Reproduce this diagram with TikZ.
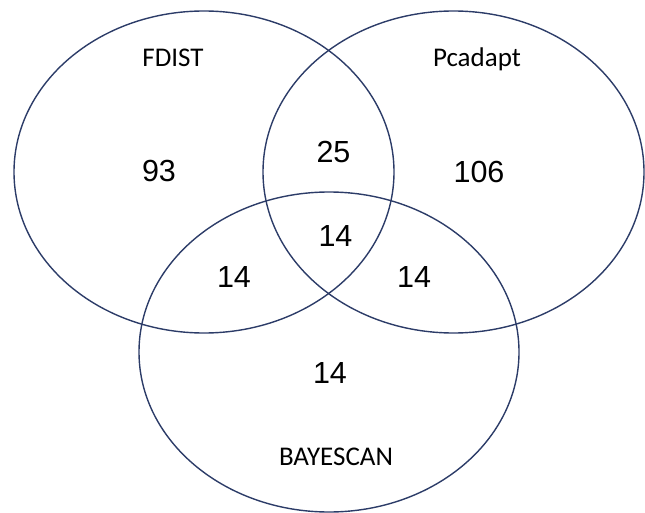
\documentclass[tikz,border=0pt]{standalone}
\usepackage{fontspec}
\newfontfamily\labelfont{Carlito}
\newfontfamily\countfont{Liberation Sans}
\definecolor{setline}{RGB}{44,60,104}
\begin{document}
\begin{tikzpicture}[x=1pt,y=-1pt,
  setring/.style={draw=setline,line width=1.4pt},
  setname/.style={anchor=base,inner sep=0pt,font=\labelfont\fontsize{27}{27}\selectfont},
  count/.style={anchor=base,inner sep=0pt,font=\countfont\fontsize{30.5}{30.5}\selectfont}]
\useasboundingbox (0,0) rectangle (645,513);
% set centres
\coordinate (fdist) at (204,172);
\coordinate (pcadapt) at (453.5,172);
\coordinate (bayescan) at (329,352);
% the three sets
\draw[setring] (fdist) ellipse [x radius=190, y radius=161];
\draw[setring] (pcadapt) ellipse [x radius=190.5, y radius=161];
\draw[setring] (bayescan) ellipse [x radius=190, y radius=160];
% set names
\node[setname] (nfdist) at (173,67) {FDIST};
\node[setname] (npcadapt) at (477,67) {Pcadapt};
\node[setname] (nbayescan) at (336,465) {BAYESCAN};
% region counts
\node[count] (onlyf) at (159,182) {93};
\node[count] (fp) at (333.5,163) {25};
\node[count] (onlyp) at (479,183) {106};
\node[count] (fpb) at (335.5,247) {14};
\node[count] (fb) at (234,287) {14};
\node[count] (pb) at (414,287) {14};
\node[count] (onlyb) at (330,383) {14};
\end{tikzpicture}
\end{document}
